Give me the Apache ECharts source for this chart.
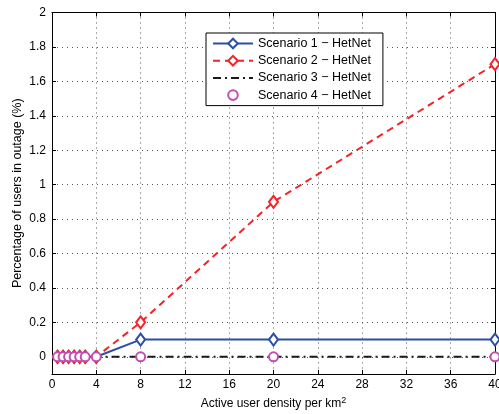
<!DOCTYPE html>
<html>
<head>
<meta charset="utf-8">
<script src="https://cdn.jsdelivr.net/npm/echarts@6/dist/echarts.min.js"></script>
<style>html,body{margin:0;padding:0;background:#fff;overflow:hidden;}#c{width:499px;height:414px;}</style>
</head>
<body>
<div id="c"></div>
<script>
var xValues = [0.5, 1, 1.5, 2, 2.5, 3, 4, 8, 20, 40];
var scenario1 = [0, 0, 0, 0, 0, 0, 0, 0.1, 0.1, 0.1];
var scenario2 = [0, 0, 0, 0, 0, 0, 0, 0.2, 0.9, 1.7];
var scenario3 = [0, 0, 0, 0, 0, 0, 0, 0, 0, 0];
var scenario4 = [0, 0, 0, 0, 0, 0, 0, 0, 0, 0];
var seriesNames = ['Scenario 1 \u2212 HetNet', 'Scenario 2 \u2212 HetNet', 'Scenario 3 \u2212 HetNet', 'Scenario 4 \u2212 HetNet'];
var yTicks = [0, 0.2, 0.4, 0.6, 0.8, 1, 1.2, 1.4, 1.6, 1.8, 2];
var xTicks = [0, 4, 8, 12, 16, 20, 24, 28, 32, 36, 40];

function pairs(ys) { return xValues.map(function (x, i) { return [x, ys[i]]; }); }

var FONT = '"Liberation Sans", Arial, sans-serif';
var chart = echarts.init(document.getElementById('c'), null, {renderer: 'canvas'});

var baseX = {
  type: 'value', min: 0, max: 40, interval: 4,
  axisLine: {show: true, onZero: false, lineStyle: {color: '#000', width: 1}},
  axisTick: {show: true, inside: true, length: 4, customValues: xTicks, lineStyle: {color: '#000'}},
};
var baseY = {
  type: 'value', min: -0.1, max: 2,
  axisLine: {show: true, onZero: false, lineStyle: {color: '#000', width: 1}},
  axisTick: {show: true, inside: true, length: 4, customValues: yTicks, lineStyle: {color: '#000'}},
};

chart.setOption({
  animation: false,
  backgroundColor: '#fff',
  textStyle: {fontFamily: FONT},
  grid: {left: 52, right: 4, top: 12.5, bottom: 40, containLabel: false, outerBoundsMode: 'none'},
  legend: {
    orient: 'vertical', left: 206, top: 33,
    data: [
      {name: seriesNames[0]},
      {name: seriesNames[1]},
      {name: seriesNames[2], itemStyle: {opacity: 0}},
      {name: seriesNames[3]}
    ],
    backgroundColor: '#fff', borderColor: '#000', borderWidth: 1,
    padding: [4, 12, 4, 6],
    itemWidth: 40, itemHeight: 12, itemGap: 4.2,
    textStyle: {fontFamily: FONT, fontSize: 12.5, color: '#000'}
  },
  xAxis: [
    Object.assign({}, baseX, {
      position: 'bottom',
      name: 'Active user density per km{sup|2}',
      nameLocation: 'middle', nameGap: 22, nameMoveOverlap: false,
      nameTextStyle: {fontFamily: FONT, fontSize: 12, color: '#000',
        rich: {sup: {fontFamily: FONT, fontSize: 9, color: '#000', verticalAlign: 'bottom', padding: [0, 0, 7, 0]}}},
      axisLabel: {show: true, customValues: xTicks, fontFamily: FONT, fontSize: 12, color: '#000', margin: 5},
      splitLine: {show: true, lineStyle: {color: '#555', type: [1, 4], width: 1}}
    }),
    Object.assign({}, baseX, {
      position: 'top', axisLabel: {show: false}, splitLine: {show: false}
    })
  ],
  yAxis: [
    Object.assign({}, baseY, {
      position: 'left',
      name: 'Percentage of users in outage (%)',
      nameLocation: 'middle', nameGap: 28, nameRotate: 90, nameMoveOverlap: false,
      nameTextStyle: {fontFamily: FONT, fontSize: 12.5, color: '#000'},
      axisLabel: {show: true, customValues: yTicks, fontFamily: FONT, fontSize: 12, color: '#000', margin: 6},
      splitLine: {show: true, lineStyle: {color: '#555', type: [1, 4], width: 1}}
    }),
    Object.assign({}, baseY, {
      position: 'right', axisLabel: {show: false}, splitLine: {show: false}
    })
  ],
  series: [
    {
      name: seriesNames[0], type: 'line', data: pairs(scenario1), clip: false,
      symbol: 'emptyDiamond', symbolSize: [9, 12],
      lineStyle: {color: '#2c4ea3', width: 2, type: 'solid'},
      itemStyle: {color: '#2c4ea3', borderColor: '#2c4ea3', borderWidth: 2}
    },
    {
      name: seriesNames[1], type: 'line', data: pairs(scenario2), clip: false,
      symbol: 'emptyDiamond', symbolSize: [9, 12],
      lineStyle: {color: '#f42328', width: 2, type: [7, 5]},
      itemStyle: {color: '#f42328', borderColor: '#f42328', borderWidth: 2}
    },
    {
      name: seriesNames[2], type: 'line', data: pairs(scenario3), clip: false,
      symbol: 'none',
      lineStyle: {color: '#1a1a1a', width: 2, type: [8, 4, 2, 4]},
      itemStyle: {color: '#1a1a1a'}
    },
    {
      name: seriesNames[3], type: 'line', data: pairs(scenario4), clip: false,
      symbol: 'emptyCircle', symbolSize: 9,
      lineStyle: {width: 0, opacity: 0},
      itemStyle: {color: '#c04fb2', borderColor: '#c04fb2', borderWidth: 2}
    }
  ]
});
</script>
</body>
</html>
